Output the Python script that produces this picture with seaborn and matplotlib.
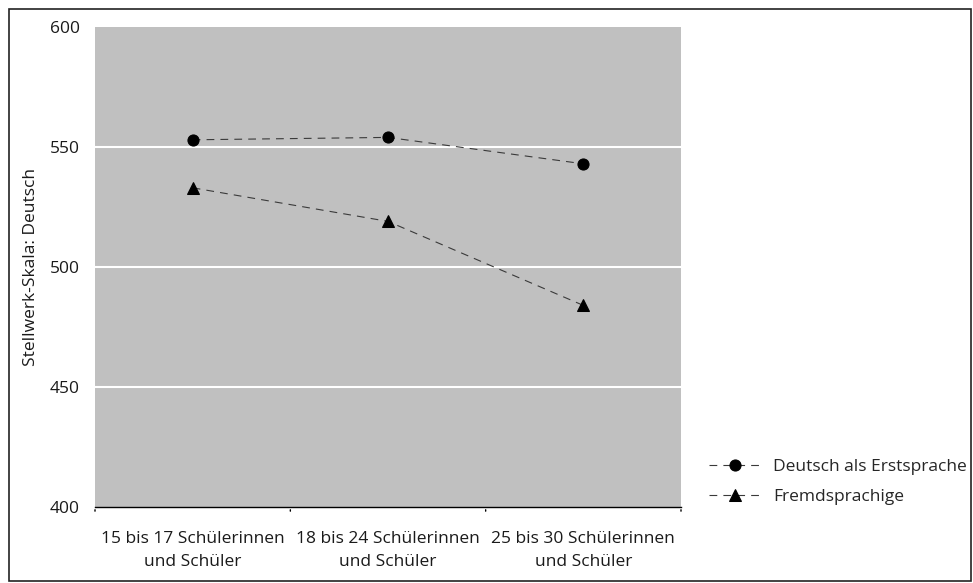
import matplotlib
matplotlib.use("Agg")
import matplotlib.pyplot as plt
import seaborn as sns
import pandas as pd
from matplotlib.patches import Rectangle

groups = ["15 bis 17 Schülerinnen\nund Schüler",
          "18 bis 24 Schülerinnen\nund Schüler",
          "25 bis 30 Schülerinnen\nund Schüler"]
series_names = ["Deutsch als Erstsprache", "Fremdsprachige"]
erstsprache = [553, 554, 543]
fremdsprachige = [533, 519, 484]
y_ticks = [400, 450, 500, 550, 600]

df = pd.DataFrame({
    "Gruppe": groups * 2,
    "Wert": erstsprache + fremdsprachige,
    "Sprache": [series_names[0]] * 3 + [series_names[1]] * 3,
})

sns.set_theme(style="white")
plt.rcParams["font.family"] = ["Open Sans", "DejaVu Sans"]

fig = plt.figure(figsize=(9.73, 5.83), dpi=100)
ax = fig.add_axes([95 / 973, 1 - 507 / 583, (681 - 95) / 973, (507 - 27) / 583])
ax.set_facecolor("#c0c0c0")

sns.lineplot(data=df, x="Gruppe", y="Wert", style="Sprache", sort=False,
             markers={series_names[0]: "o", series_names[1]: "^"},
             dashes={series_names[0]: (7, 5.5), series_names[1]: (7, 5.5)},
             color="#3a3a3a", linewidth=0.8, markersize=8,
             markerfacecolor="black", markeredgecolor="black",
             ax=ax, legend=True)

ax.set_xlim(-0.5, 2.5)
ax.set_ylim(400, 600)
ax.set_yticks(y_ticks)
ax.set_yticklabels([str(v) for v in y_ticks], fontsize=12.5, color="#1a1a1a")
for v in y_ticks[1:-1]:
    ax.axhline(v, color="white", linewidth=1.5, zorder=0.5)

ax.set_xticks(range(len(groups)))
ax.set_xticklabels(groups, fontsize=12.5, color="#1a1a1a", linespacing=1.65)
ax.tick_params(axis="x", length=0, pad=17)
ax.tick_params(axis="y", length=0, pad=11)
for b in [-0.5, 0.5, 1.5, 2.5]:
    ax.annotate("", xy=(b, 0), xycoords=("data", "axes fraction"),
                xytext=(0, -5), textcoords="offset points",
                arrowprops=dict(arrowstyle="-", color="black", lw=1))

for s in ["top", "right", "left"]:
    ax.spines[s].set_visible(False)
ax.spines["bottom"].set_color("black")
ax.spines["bottom"].set_linewidth(1)

ax.set_xlabel("")
ax.set_ylabel("Stellwerk-Skala: Deutsch", fontsize=12.5, color="#1a1a1a", labelpad=8)

handles, labels = ax.get_legend_handles_labels()
ax.get_legend().remove()
fig.legend(handles, labels, loc="upper left",
           bbox_to_anchor=(709 / 973, 1 - 459 / 583),
           frameon=False, fontsize=12.5, handlelength=3.05,
           labelspacing=0.8, handletextpad=0.65,
           borderpad=0, borderaxespad=0)

fig.patches.append(Rectangle((9 / 973, 2 / 583), 962 / 973, 572 / 583,
                             transform=fig.transFigure, fill=False,
                             edgecolor="#222222", linewidth=1.2))

fig.savefig("out.png", dpi=100)
